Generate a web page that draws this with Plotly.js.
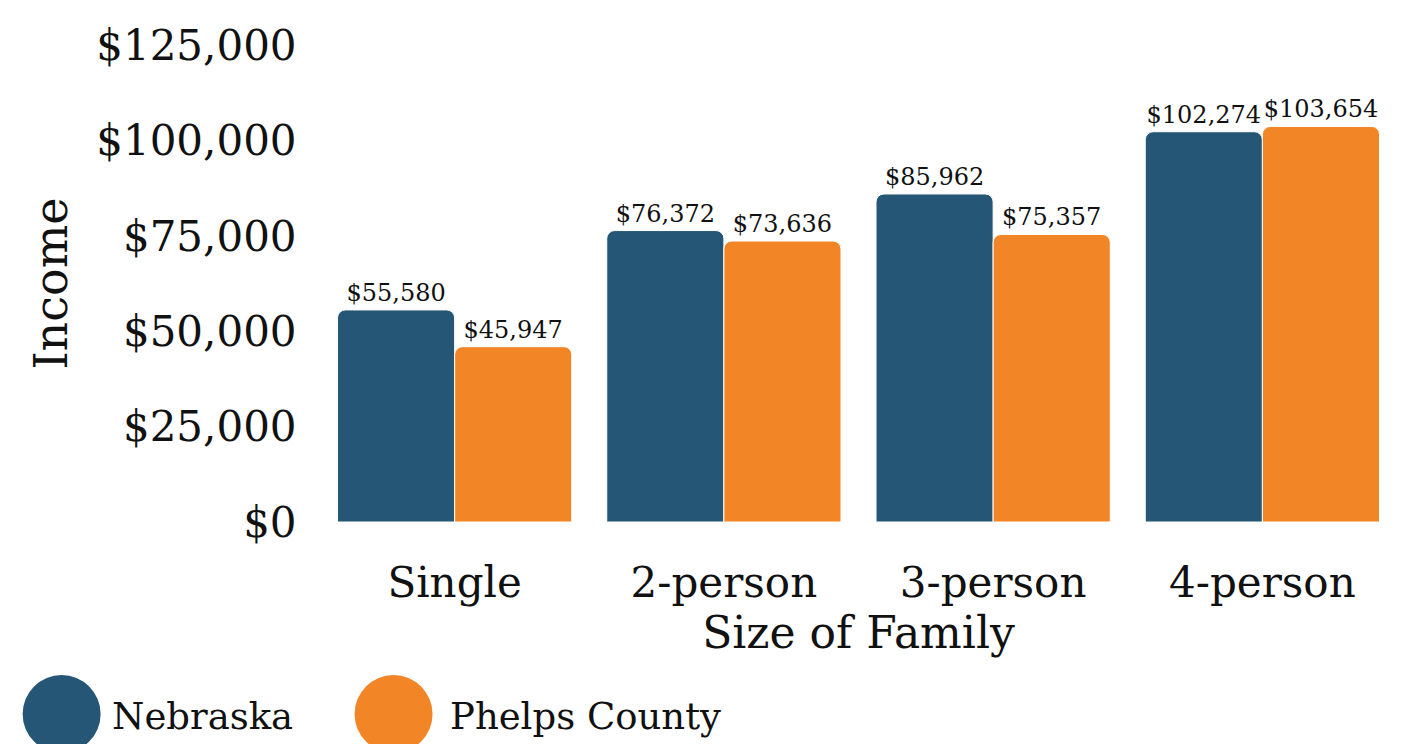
<!DOCTYPE html>
<html><head><meta charset="utf-8">
<script src="https://cdn.plot.ly/plotly-3.0.1.min.js"></script>
<style>html,body{margin:0;padding:0;background:#fff}#c{width:1414px;height:744px}</style>
</head><body><div id="c"></div>
<script>
const categories = ["Single", "2-person", "3-person", "4-person"];
const nebraska = [55580, 76372, 85962, 102274];
const phelps = [45947, 73636, 75357, 103654];
const seriesNames = ["Nebraska", "Phelps County"];
const yTicks = [0, 25000, 50000, 75000, 100000, 125000];
const yTickLabels = ["$0", "$25,000", "$50,000", "$75,000", "$100,000", "$125,000"];

const FONT = "DejaVu Serif, Georgia, serif";
const NAVY = "#265675";
const ORANGE = "#F28627";
const fmt = v => "$" + v.toLocaleString("en-US");

const traces = [
  {type: "bar", name: seriesNames[0], x: categories, y: nebraska,
   marker: {color: NAVY, line: {color: "#fff", width: 1}},
   text: nebraska.map(fmt), textposition: "outside", cliponaxis: false,
   textfont: {family: FONT, size: 24, color: "#111"}},
  {type: "bar", name: seriesNames[1], x: categories, y: phelps,
   marker: {color: ORANGE, line: {color: "#fff", width: 1}},
   text: phelps.map(fmt), textposition: "outside", cliponaxis: false,
   textfont: {family: FONT, size: 24, color: "#111"}}
];

const layout = {
  width: 1414, height: 744,
  margin: {l: 320, r: 17, t: 45, b: 222},
  paper_bgcolor: "#fff", plot_bgcolor: "#fff",
  barmode: "group", bargap: 0.13, bargroupgap: 0,
  barcornerradius: 8,
  showlegend: false,
  font: {family: FONT, color: "#111"},
  xaxis: {
    showgrid: false, zeroline: false, showline: false,
    tickfont: {family: FONT, size: 42, color: "#111"},
    ticks: "outside", ticklen: 24, tickcolor: "rgba(0,0,0,0)",
    title: {text: "Size of Family", font: {family: FONT, size: 44, color: "#111"}, standoff: 10}
  },
  yaxis: {
    range: [0, 125000], tickvals: yTicks, ticktext: yTickLabels,
    showgrid: false, zeroline: false, showline: false,
    tickfont: {family: FONT, size: 42, color: "#111"},
    ticks: "outside", ticklen: 14, tickcolor: "rgba(0,0,0,0)",
    title: {text: "Income", font: {family: FONT, size: 46, color: "#111"}, standoff: 14}
  },
  shapes: [
    {type: "circle", xref: "paper", yref: "paper", xsizemode: "pixel", ysizemode: "pixel",
     xanchor: -0.2399, yanchor: -0.4025, x0: -39, x1: 39, y0: -39, y1: 39,
     fillcolor: NAVY, line: {width: 0}},
    {type: "circle", xref: "paper", yref: "paper", xsizemode: "pixel", ysizemode: "pixel",
     xanchor: 0.0683, yanchor: -0.4025, x0: -39, x1: 39, y0: -39, y1: 39,
     fillcolor: ORANGE, line: {width: 0}}
  ],
  annotations: [
    {xref: "paper", yref: "paper", x: -0.195, y: -0.407, xanchor: "left", yanchor: "middle",
     text: seriesNames[0], showarrow: false, font: {family: FONT, size: 37, color: "#111"}},
    {xref: "paper", yref: "paper", x: 0.119, y: -0.407, xanchor: "left", yanchor: "middle",
     text: seriesNames[1], showarrow: false, font: {family: FONT, size: 37, color: "#111"}}
  ]
};

Plotly.newPlot("c", traces, layout, {displayModeBar: false});
</script></body></html>
